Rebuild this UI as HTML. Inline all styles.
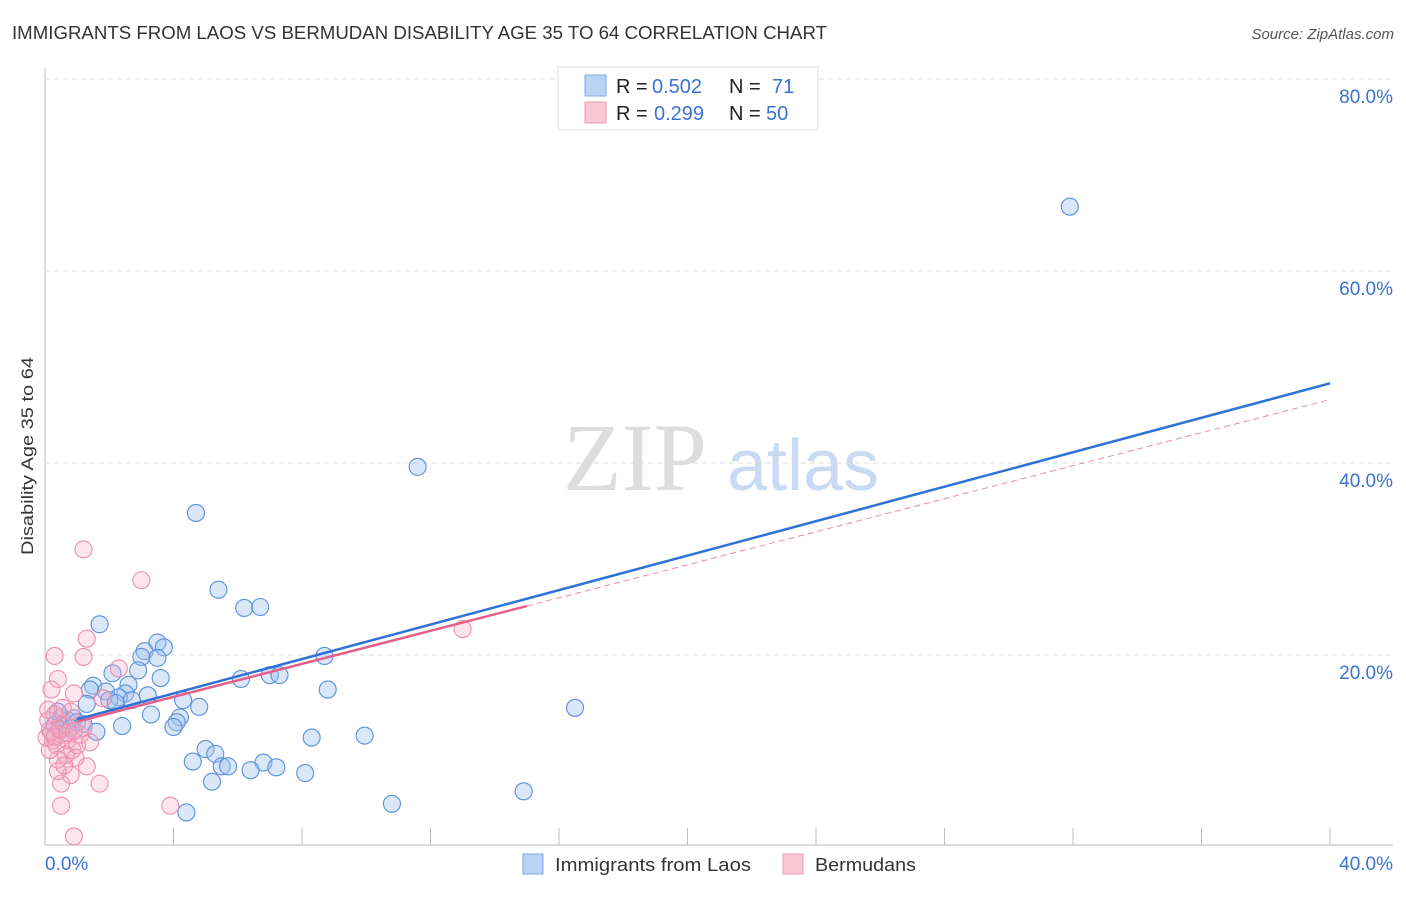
<!DOCTYPE html>
<html><head><meta charset="utf-8"><style>
body{margin:0;background:#fff;font-family:"Liberation Sans",sans-serif;}
</style></head><body>
<svg id="chart" width="1406" height="892" font-family="Liberation Sans, sans-serif">
<text x="12" y="39" font-size="18" fill="#333" textLength="815" lengthAdjust="spacingAndGlyphs">IMMIGRANTS FROM LAOS VS BERMUDAN DISABILITY AGE 35 TO 64 CORRELATION CHART</text>
<text x="1394" y="39" font-size="15" fill="#555" font-style="italic" text-anchor="end">Source: ZipAtlas.com</text>
<text x="33" y="456" font-size="17" fill="#333" text-anchor="middle" textLength="198" lengthAdjust="spacingAndGlyphs" transform="rotate(-90 33 456)">Disability Age 35 to 64</text>
<g><text x="635" y="490" font-size="96" fill="#ddd" style="font-family:'Liberation Serif',serif" text-anchor="middle">ZIP</text><text x="803" y="490" font-size="72" fill="#c9daf2" text-anchor="middle">atlas</text></g>
<g id="grid"></g><g id="pts"></g><g id="lines"></g>
<g>
<rect x="558" y="67" width="260" height="63" fill="#fff" stroke="#ddd"/>
<rect x="585" y="75" width="21" height="21" fill="#b9d3f5" stroke="#7fa9e3"/>
<rect x="585" y="102" width="21" height="21" fill="#f9c8d6" stroke="#ee9ab3"/>
<text x="616" y="93" font-size="20" fill="#222">R =</text>
<text x="652" y="93" font-size="20" fill="#3a73d1">0.502</text>
<text x="729" y="93" font-size="20" fill="#222">N =</text>
<text x="772" y="93" font-size="20" fill="#3a73d1">71</text>
<text x="616" y="120" font-size="20" fill="#222">R =</text>
<text x="654" y="120" font-size="20" fill="#3a73d1">0.299</text>
<text x="729" y="120" font-size="20" fill="#222">N =</text>
<text x="766" y="120" font-size="20" fill="#3a73d1">50</text>
</g>
<g>
<rect x="523" y="854" width="20" height="20" fill="#b9d3f5" stroke="#7fa9e3"/>
<text x="555" y="871" font-size="18" fill="#333" textLength="196" lengthAdjust="spacingAndGlyphs">Immigrants from Laos</text>
<rect x="783" y="854" width="20" height="20" fill="#f9c8d6" stroke="#ee9ab3"/>
<text x="815" y="871" font-size="18" fill="#333" textLength="101" lengthAdjust="spacingAndGlyphs">Bermudans</text>
</g>
</svg>
<script>
const yTicks=[20,40,60,80];
const xTickLabels=["0.0%","40.0%"];
const blueX=[31.9,11.6,4.7,5.4,6.2,6.7,1.7,3.5,3.7,3.1,3.0,3.5,8.7,2.9,2.1,3.6,6.1,7.0,7.3,2.6,1.5,1.4,1.9,2.5,3.2,2.3,2.0,2.7,4.3,8.8,1.3,2.2,4.8,16.5,3.3,4.2,0.5,0.7,0.9,1.0,1.2,2.4,4.1,4.0,1.6,8.3,9.95,5.0,5.3,4.6,6.8,5.5,5.7,7.2,6.4,8.1,5.2,10.8,14.9,4.4,0.3,0.5,0.4,0.8];
const blueY=[66.7,39.6,34.8,26.8,24.9,25.0,23.2,21.3,20.8,20.4,19.8,19.7,19.9,18.4,18.1,17.6,17.5,17.9,17.9,16.9,16.8,16.4,16.2,16.0,15.8,15.6,15.3,15.3,15.3,16.4,14.9,15.0,14.6,14.5,13.8,13.5,13.5,13.2,13.4,13.0,12.8,12.6,13.0,12.5,12.0,11.4,11.6,10.2,9.7,8.9,8.8,8.4,8.4,8.3,8.0,7.7,6.8,4.5,5.8,3.6,12.7,12.2,14.1,12.4];
const pinkX=[1.2,3.0,1.3,0.3,1.2,2.3,0.4,0.2,0.9,1.8,13.0,3.9,0.5,1.7,0.5,0.9,1.3,0.8,0.4,0.1,0.15,0.25,0.35,0.5,0.6,0.7,0.85,1.0,1.1,0.65,0.4,0.15,0.05,0.3,0.55,0.8,1.2,1.4,0.95,0.6,0.1,0.2,0.3,0.45,0.7,0.9];
const pinkY=[31.0,27.8,21.7,19.9,19.8,18.6,17.5,16.4,16.0,15.5,22.7,4.3,6.6,6.6,4.3,1.1,8.4,7.5,7.9,13.2,12.2,11.1,10.6,11.7,12.7,11.1,10.1,10.6,11.7,9.6,9.1,10.1,11.4,13.8,14.5,14.1,12.4,10.9,9.3,8.5,14.3,12.0,11.5,12.3,11.9,12.1];
const blueTrend=[12.4,48.3];
const pinkTrend=[12.2,46.6];
const pinkSolidEnd=15;
const NS='http://www.w3.org/2000/svg';
const X=v=>45+v/40*1285, Y=v=>847-v*9.6;
function mk(t,a,p){const e=document.createElementNS(NS,t);for(const k in a)e.setAttribute(k,a[k]);p.appendChild(e);return e;}
const grid=document.getElementById('grid');
let ax=mk('line',{x1:45,y1:68,x2:45,y2:845,stroke:'#bbb'},grid);


let bx=mk('line',{x1:45,y1:845,x2:1393,y2:845,stroke:'#bbb'},grid);


yTicks.forEach(t=>{
 const g=mk('line',{x1:45,y1:Y(t),x2:1393,y2:Y(t),stroke:'#ddd','stroke-dasharray':'5,4'},grid);
 
 
 const l=mk('text',{x:1393,y:Y(t)+24,'font-size':19,fill:'#3a73d1','text-anchor':'end'},grid);l.textContent=t.toFixed(1)+'%';
 
 
});
for(let i=1;i<=10;i++){const t=mk('line',{x1:X(i*4),y1:828,x2:X(i*4),y2:845,stroke:'#bbb'},grid);
 
 }
[[0,'start',45],[40,'end',1393]].forEach((d,i)=>{const l=mk('text',{x:d[2],y:870,'font-size':19,fill:'#3a73d1','text-anchor':d[1]},grid);l.textContent=xTickLabels[i];
 
 });
const pts=document.getElementById('pts');
blueX.forEach((x,i)=>{const c=mk('circle',{cx:X(x),cy:Y(blueY[i]),r:8.5,fill:'rgba(160,195,240,0.4)',stroke:'#5a90dc','stroke-width':1.1},pts);
 
 });
pinkX.forEach((x,i)=>{const c=mk('circle',{cx:X(x),cy:Y(pinkY[i]),r:8.5,fill:'rgba(245,170,195,0.3)',stroke:'#ec8fae','stroke-width':1.1},pts);
 
 });
const lines=document.getElementById('lines');
const pAt=x=>pinkTrend[0]+(pinkTrend[1]-pinkTrend[0])*x/40;
let pd=mk('line',{x1:X(pinkSolidEnd),y1:Y(pAt(pinkSolidEnd)),x2:X(40),y2:Y(pinkTrend[1]),stroke:'#e88aa8','stroke-width':1,'stroke-dasharray':'6,4'},lines);


let bl=mk('line',{x1:X(1),y1:Y(blueTrend[0]+(blueTrend[1]-blueTrend[0])/40),x2:X(40),y2:Y(blueTrend[1]),stroke:'#2f72d6','stroke-width':2.5},lines);


let pl=mk('line',{x1:X(1),y1:Y(pAt(1)),x2:X(pinkSolidEnd),y2:Y(pAt(pinkSolidEnd)),stroke:'#e2608a','stroke-width':2.5},lines);


</script>
</body></html>
